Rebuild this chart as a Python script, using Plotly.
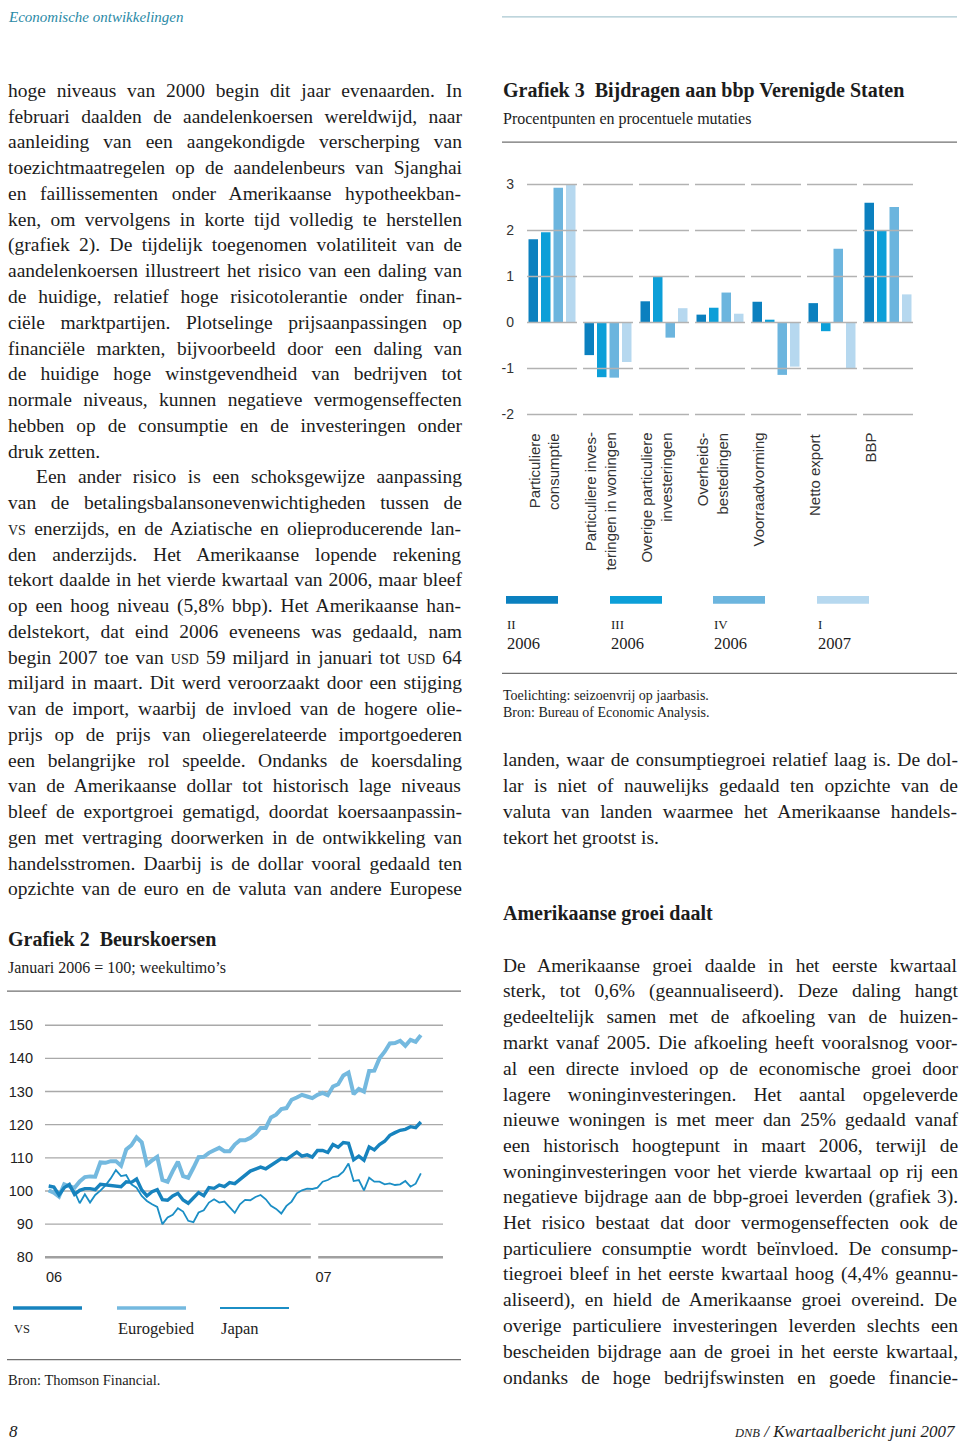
import os, re, glob, struct, html
import pandas as pd
import plotly.graph_objects as go

W, H = 960, 1447
def px(x): return x / W
def py(y): return 1 - y / H

# ------------------------------------------------------------------ data
# Grafiek 2 - Beurskoersen (januari 2006 = 100; weekultimo's)
week_start = "2006-01-06"
n_weeks = 73
vs = [101.5, 101.2, 98.8, 101.0, 102.0, 99.0, 100.2, 100.7, 100.7, 100.4,
      102.0, 101.8, 101.8, 101.6, 101.3, 102.8, 102.6, 103.6, 100.3, 98.5,
      99.8, 100.4, 97.4, 97.2, 98.5, 99.3, 97.3, 96.3, 97.8, 99.5,
      98.6, 101.0, 100.8, 101.8, 101.3, 102.5, 102.2, 103.5, 105.0, 106.0,
      106.6, 107.2, 106.7, 107.8, 109.0, 109.8, 109.5, 110.6, 111.7, 110.5,
      110.9, 110.2, 112.2, 112.2, 111.6, 114.0, 113.2, 114.6, 114.4, 109.4,
      110.5, 109.3, 113.3, 112.4, 114.0, 115.0, 116.8, 117.6, 118.3, 118.6,
      119.4, 119.1, 120.8]
eurogebied = [100.2, 99.5, 98.3, 102.0, 101.4, 101.0, 102.9, 104.2, 104.4, 104.3,
              108.6, 108.5, 109.0, 109.0, 107.6, 112.5, 113.8, 116.2, 114.7, 108.0,
              109.2, 110.3, 103.3, 102.8, 106.0, 108.8, 104.5, 104.0, 107.0, 110.2,
              110.3, 111.5, 112.3, 113.0, 112.0, 112.0, 114.0, 115.3, 115.3, 116.0,
              117.2, 119.0, 119.0, 122.2, 123.0, 124.7, 125.0, 127.5, 128.2, 129.0,
              128.5, 128.0, 129.0, 129.6, 128.9, 131.5, 132.2, 134.8, 135.7, 129.2,
              130.8, 130.0, 136.2, 136.3, 140.0, 142.0, 144.5, 144.6, 145.3, 143.8,
              145.6, 145.0, 147.0]
japan = [100.0, 99.4, 98.4, 101.8, 101.2, 99.8, 96.3, 99.0, 96.5, 98.8,
         100.1, 101.7, 103.8, 106.3, 104.5, 104.8, 102.0, 101.0, 98.5, 97.0,
         96.0, 95.2, 90.0, 92.0, 92.8, 94.8, 93.8, 91.0, 90.6, 93.5,
         94.2, 96.5, 97.5, 96.5, 96.8, 95.2, 93.4, 96.0, 97.3, 97.2,
         98.2, 98.8, 97.5, 95.5, 94.6, 93.2, 95.5, 96.8, 99.3, 100.2,
         100.7, 100.6, 101.0, 102.8, 103.3, 104.2, 104.5, 105.8, 108.3, 103.0,
         103.3, 100.2, 104.0, 102.8, 102.8, 102.0, 102.3, 101.8, 102.0, 103.0,
         101.3, 102.2, 105.3]
series2_names = ["vs", "Eurogebied", "Japan"]
y2_ticks = [80, 90, 100, 110, 120, 130, 140, 150]
x2_ticks = ["2006-01-01", "2007-01-01"]
x2_ticktext = ["06", "07"]

# Grafiek 3 - Bijdragen aan bbp Verenigde Staten
categories = ["Particuliere consumptie", "Particuliere investeringen in woningen",
              "Overige particuliere investeringen", "Overheidsbestedingen",
              "Voorraadvorming", "Netto export", "BBP"]
category_labels = ["Particuliere<br>consumptie", "Particuliere inves-<br>teringen in woningen",
                   "Overige particuliere<br>investeringen", "Overheids-<br>bestedingen",
                   "Voorraadvorming", "Netto export", "BBP"]
quarter_numerals = ["II", "III", "IV", "I"]
quarter_years = ["2006", "2006", "2006", "2007"]
q2_2006 = [1.81, -0.71, 0.46, 0.17, 0.45, 0.42, 2.6]
q3_2006 = [1.96, -1.19, 1.01, 0.32, 0.06, -0.19, 2.0]
q4_2006 = [2.93, -1.20, -0.33, 0.65, -1.14, 1.60, 2.51]
q1_2007 = [3.00, -0.86, 0.31, 0.19, -0.96, -0.99, 0.61]
y3_ticks = [-2, -1, 0, 1, 2, 3]
y3_ticktext = ["-2", "-1", "0", "1", "2", "3"]

# ------------------------------------------------------------------ text
left_lines = [
    "hoge niveaus van 2000 begin dit jaar evenaarden. In",
    "februari daalden de aandelenkoersen wereldwijd, naar",
    "aanleiding van een aangekondigde verscherping van",
    "toezichtmaatregelen op de aandelenbeurs van Sjanghai",
    "en faillissementen onder Amerikaanse hypotheekban-",
    "ken, om vervolgens in korte tijd volledig te herstellen",
    "(grafiek 2). De tijdelijk toegenomen volatiliteit van de",
    "aandelenkoersen illustreert het risico van een daling van",
    "de huidige, relatief hoge risicotolerantie onder finan-",
    "ciële marktpartijen. Plotselinge prijsaanpassingen op",
    "financiële markten, bijvoorbeeld door een daling van",
    "de huidige hoge winstgevendheid van bedrijven tot",
    "normale niveaus, kunnen negatieve vermogenseffecten",
    "hebben op de consumptie en de investeringen onder",
    "druk zetten.",
    "Een ander risico is een schoksgewijze aanpassing",
    "van de betalingsbalansonevenwichtigheden tussen de",
    "[[VS]] enerzijds, en de Aziatische en olieproducerende lan-",
    "den anderzijds. Het Amerikaanse lopende rekening",
    "tekort daalde in het vierde kwartaal van 2006, maar bleef",
    "op een hoog niveau (5,8% bbp). Het Amerikaanse han-",
    "delstekort, dat eind 2006 eveneens was gedaald, nam",
    "begin 2007 toe van [[USD]] 59 miljard in januari tot [[USD]] 64",
    "miljard in maart. Dit werd veroorzaakt door een stijging",
    "van de import, waarbij de invloed van de hogere olie-",
    "prijs op de prijs van oliegerelateerde importgoederen",
    "een belangrijke rol speelde. Ondanks de koersdaling",
    "van de Amerikaanse dollar tot historisch lage niveaus",
    "bleef de exportgroei gematigd, doordat koersaanpassin-",
    "gen met vertraging doorwerken in de ontwikkeling van",
    "handelsstromen. Daarbij is de dollar vooral gedaald ten",
    "opzichte van de euro en de valuta van andere Europese",
]
left_ragged = {14}
left_indent = {15}

right_lines_a = [
    "landen, waar de consumptiegroei relatief laag is. De dol-",
    "lar is niet of nauwelijks gedaald ten opzichte van de",
    "valuta van landen waarmee het Amerikaanse handels-",
    "tekort het grootst is.",
]
right_lines_b = [
    "De Amerikaanse groei daalde in het eerste kwartaal",
    "sterk, tot 0,6% (geannualiseerd). Deze daling hangt",
    "gedeeltelijk samen met de afkoeling van de huizen-",
    "markt vanaf 2005. Die afkoeling heeft vooralsnog voor-",
    "al een directe invloed op de economische groei door",
    "lagere woninginvesteringen. Het aantal opgeleverde",
    "nieuwe woningen is met meer dan 25% gedaald vanaf",
    "een historisch hoogtepunt in maart 2006, terwijl de",
    "woninginvesteringen voor het vierde kwartaal op rij een",
    "negatieve bijdrage aan de bbp-groei leverden (grafiek 3).",
    "Het risico bestaat dat door vermogenseffecten ook de",
    "particuliere consumptie wordt beïnvloed. De consump-",
    "tiegroei bleef in het eerste kwartaal hoog (4,4% geannu-",
    "aliseerd), en hield de Amerikaanse groei overeind. De",
    "overige particuliere investeringen leverden slechts een",
    "bescheiden bijdrage aan de groei in het eerste kwartaal,",
    "ondanks de hoge bedrijfswinsten en goede financie-",
]

# ------------------------------------------------------------------ font metrics (for justification)
def _find_font(name):
    roots = ["/usr/share/fonts", "/usr/local/share/fonts",
             os.path.expanduser("~/.fonts"), os.path.expanduser("~/.local/share/fonts")]
    for r in roots:
        for p in glob.glob(os.path.join(r, "**", name), recursive=True):
            return p
    return None

def _load_widths(path):
    data = open(path, "rb").read()
    ntab = struct.unpack(">H", data[4:6])[0]
    tabs = {}
    for i in range(ntab):
        o = 12 + 16 * i
        tag = data[o:o + 4].decode("latin1")
        _, toff, tlen = struct.unpack(">III", data[o + 4:o + 16])
        tabs[tag] = toff
    upem = struct.unpack(">H", data[tabs["head"] + 18:tabs["head"] + 20])[0]
    nhm = struct.unpack(">H", data[tabs["hhea"] + 34:tabs["hhea"] + 36])[0]
    hm = tabs["hmtx"]
    adv = [struct.unpack(">H", data[hm + 4 * i:hm + 4 * i + 2])[0] for i in range(nhm)]
    cm = tabs["cmap"]
    nsub = struct.unpack(">H", data[cm + 2:cm + 4])[0]
    cmap = {}
    for i in range(nsub):
        pid, eid, soff = struct.unpack(">HHI", data[cm + 4 + 8 * i:cm + 12 + 8 * i])
        so = cm + soff
        fmt = struct.unpack(">H", data[so:so + 2])[0]
        if fmt != 4:
            continue
        segx2 = struct.unpack(">H", data[so + 6:so + 8])[0]
        n = segx2 // 2
        e_off = so + 14
        s_off = e_off + segx2 + 2
        d_off = s_off + segx2
        r_off = d_off + segx2
        ends = struct.unpack(">%dH" % n, data[e_off:e_off + segx2])
        starts = struct.unpack(">%dH" % n, data[s_off:s_off + segx2])
        deltas = struct.unpack(">%dh" % n, data[d_off:d_off + segx2])
        ros = struct.unpack(">%dH" % n, data[r_off:r_off + segx2])
        for s in range(n):
            for c in range(starts[s], min(ends[s], 0x2100) + 1):
                if ros[s] == 0:
                    g = (c + deltas[s]) & 0xFFFF
                else:
                    a = r_off + 2 * s + ros[s] + 2 * (c - starts[s])
                    g = struct.unpack(">H", data[a:a + 2])[0]
                    if g:
                        g = (g + deltas[s]) & 0xFFFF
                cmap[c] = g
        break
    def w(ch):
        g = cmap.get(ord(ch), 0)
        return adv[min(g, nhm - 1)] / upem
    return w

_fp = _find_font("LiberationSerif-Regular.ttf")
try:
    char_w = _load_widths(_fp) if _fp else None
except Exception:
    char_w = None
if char_w is None:
    def char_w(ch):
        if ch == " ": return 0.25
        if ch.isupper(): return 0.67
        if ch.isdigit(): return 0.5
        return 0.44

SERIF = "Liberation Serif"
SANS = "Liberation Sans"
INK = "#1c1c1c"
BODY_FS = 19.5
SC = 0.72  # small-caps scale

def text_width(s, fs):
    tot = 0.0
    for i, part in enumerate(re.split(r"\[\[(.*?)\]\]", s)):
        f = fs * SC if i % 2 else fs
        tot += sum(char_w(c) for c in part) * f
    return tot

def to_markup(s, fs):
    out = []
    for i, part in enumerate(re.split(r"\[\[(.*?)\]\]", s)):
        if i % 2:
            out.append('<span style="font-size:%.1fpx">%s</span>' % (fs * SC, html.escape(part)))
        else:
            out.append(html.escape(part, quote=False))
    return "".join(out)

annotations = []
shapes = []

def add_text(x, y, text, size, family=SERIF, color=INK, xanchor="left", yanchor="middle",
             weight="normal", style="normal", **kw):
    annotations.append(dict(x=px(x), y=py(y), xref="paper", yref="paper", text=text,
                            showarrow=False, xanchor=xanchor, yanchor=yanchor, borderpad=0,
                            font=dict(family=family, size=size, color=color, weight=weight, style=style),
                            **kw))

def add_body(lines, x0, x1, y0, pitch, ragged=(), indent=(), fs=BODY_FS):
    for i, ln in enumerate(lines):
        xs = x0 + (28 if i in indent else 0)
        y = y0 + i * pitch - 2
        markup = to_markup(ln, fs)
        nsp = ln.count(" ")
        if i not in ragged and nsp > 0:
            ws = ((x1 - xs) - text_width(ln, fs)) / nsp
            markup = '<span style="word-spacing:%.2fpx">%s</span>' % (ws, markup)
        add_text(xs, y, markup, fs)

def hline(x0, x1, y, color="#707070", width=1.2):
    shapes.append(dict(type="line", xref="paper", yref="paper", x0=px(x0), x1=px(x1),
                       y0=py(y), y1=py(y), line=dict(color=color, width=width)))

# header / footer
add_text(7, 12, "Economische ontwikkelingen", 15, color="#2a8aa6", style="italic")
hline(502, 957, 12, color="#a9c7d1", width=1.4)
add_text(8, 1436, "8", 17, style="italic")
add_text(957, 1436, '<span style="font-size:12.5px">DNB</span> / Kwartaalbericht juni 2007', 17,
         xanchor="right", style="italic")

# body text
add_body(left_lines, 7, 461, 88, 25.94, ragged=left_ragged, indent=left_indent)
add_body(right_lines_a, 502, 957, 762, 25.94, ragged={3})
add_text(502, 915, "Amerikaanse groei daalt", 20, weight="bold")
add_body(right_lines_b, 502, 957, 969, 25.94)

# ------------------------------------------------------------------ Grafiek 3
add_text(502, 86, "Grafiek 3&nbsp;&nbsp;Bijdragen aan bbp Verenigde Staten", 20, weight="bold")
add_text(502, 115, "Procentpunten en procentuele mutaties", 16)
hline(502, 957, 138)
hline(502, 957, 673)
add_text(502, 695, "Toelichting: seizoenvrij op jaarbasis.", 14)
add_text(502, 712, "Bron: Bureau of Economic Analysis.", 14)

bar_colors = ["#0b80bf", "#0c9fd8", "#6cb5de", "#b6d8ef"]
fig = go.Figure()
for vals, col, num, yr in zip([q2_2006, q3_2006, q4_2006, q1_2007], bar_colors,
                               quarter_numerals, quarter_years):
    fig.add_trace(go.Bar(x=categories, y=vals, name=num + " " + yr, marker=dict(color=col, line=dict(width=0)),
                         xaxis="x2", yaxis="y2", hoverinfo="x+y+name"))

# segmented gridlines (drawn above bars, as in the original)
g3 = 0.054
for v in y3_ticks:
    for k in range(len(categories)):
        shapes.append(dict(type="line", xref="x2", yref="y2", x0=k - 0.5 + g3, x1=k + 0.5 - g3,
                           y0=v, y1=v, layer="above", line=dict(color="#b2b2b2", width=1.5)))

for k, lab in enumerate(category_labels):
    annotations.append(dict(x=k - 0.446, y=py(430), xref="x2", yref="paper", text=lab,
                            showarrow=False, textangle=-90, xanchor="left", yanchor="top",
                            align="right", borderpad=0, xshift=-2,
                            font=dict(family=SANS, size=15, color="#333333")))

# legend grafiek 3
leg_x = [506, 610, 713, 817]
for lx, col, num, yr in zip(leg_x, bar_colors, quarter_numerals, quarter_years):
    shapes.append(dict(type="rect", xref="paper", yref="paper", x0=px(lx), x1=px(lx + 52),
                       y0=py(603), y1=py(595), fillcolor=col, line=dict(width=0)))
    add_text(lx, 624, num, 13)
    add_text(lx, 643, yr, 16.5)

# ------------------------------------------------------------------ Grafiek 2
add_text(7, 941, "Grafiek 2&nbsp;&nbsp;Beurskoersen", 20, weight="bold")
add_text(7, 969, "Januari 2006 = 100; weekultimo’s", 16)
hline(7, 461, 993)
hline(7, 461, 1364)
add_text(7, 1385, "Bron: Thomson Financial.", 14.5)

dates = pd.date_range(week_start, periods=n_weeks, freq="7D")
line_styles = {"vs": ("#1783be", 3.4), "Eurogebied": ("#74b9df", 4.0), "Japan": ("#1b8ec5", 1.8)}
for name, vals in [("Japan", japan), ("Eurogebied", eurogebied), ("vs", vs)]:
    col, wdt = line_styles[name]
    fig.add_trace(go.Scatter(x=dates, y=vals, mode="lines", name=name,
                             line=dict(color=col, width=wdt), xaxis="x", yaxis="y"))

x_end = "2007-06-24"
segs = [("2006-01-01", "2006-12-27"), ("2007-01-06", x_end)]
for v in y2_ticks:
    for a, b in segs:
        shapes.append(dict(type="line", xref="x", yref="y", x0=a, x1=b, y0=v, y1=v, layer="below",
                           line=dict(color="#a9a9a9" if v != 80 else "#a0a0a0",
                                     width=1.4 if v != 80 else 2.4)))

# legend grafiek 2
for lx, name, lab in [(13, "vs", '<span style="font-size:12.5px">VS</span>'),
                      (117, "Eurogebied", "Eurogebied"), (220, "Japan", "Japan")]:
    col, wdt = line_styles[name]
    shapes.append(dict(type="line", xref="paper", yref="paper", x0=px(lx), x1=px(lx + 69),
                       y0=py(1312), y1=py(1312), line=dict(color=col, width=min(wdt, 3.4) if name != "Japan" else 2)))
    add_text(lx, 1333, lab, 16.5)

# ------------------------------------------------------------------ axes
k2 = (1261.0 - 1027.3) / 70.0
y2_top = 1027.3 - (151 - 150) * k2
y2_bot = 1261.0 + (80 - 79) * k2
k3 = (412.3 - 180.7) / 5.0
y3_top = 180.7 - 0.1 * k3
y3_bot = 412.3 + 0.1 * k3

fig.update_layout(
    width=W, height=H, margin=dict(l=0, r=0, t=0, b=0),
    paper_bgcolor="white", plot_bgcolor="white", showlegend=False,
    barmode="group", bargap=0.107, bargroupgap=0.24,
    xaxis=dict(domain=[px(45), px(443)], anchor="y", type="date", range=["2006-01-01", x_end],
               tickvals=x2_ticks, ticktext=x2_ticktext, showgrid=False, zeroline=False, showline=False,
               ticks="", ticklabelshift=9, ticklabelstandoff=6,
               tickfont=dict(family=SANS, size=14.5, color="#222222")),
    yaxis=dict(domain=[py(y2_bot), py(y2_top)], anchor="x", range=[79, 151], tickvals=y2_ticks,
               showgrid=False, zeroline=False, showline=False, ticks="", ticklabelstandoff=11,
               tickfont=dict(family=SANS, size=14.5, color="#222222")),
    xaxis2=dict(domain=[px(524), px(916)], anchor="y2", type="category", range=[-0.5, 6.5],
                showticklabels=False, showgrid=False, zeroline=False, showline=False, ticks=""),
    yaxis2=dict(domain=[py(y3_bot), py(y3_top)], anchor="x2", range=[-2.1, 3.1], tickvals=y3_ticks,
                ticktext=y3_ticktext,
                showgrid=False, zeroline=False, showline=False, ticks="", ticklabelstandoff=9,
                tickfont=dict(family=SANS, size=14, color="#333333")),
    annotations=annotations, shapes=shapes,
)

fig.write_html("out.html", config={"displayModeBar": False},
               post_script="document.body.style.margin='0';document.body.style.overflow='hidden';")
